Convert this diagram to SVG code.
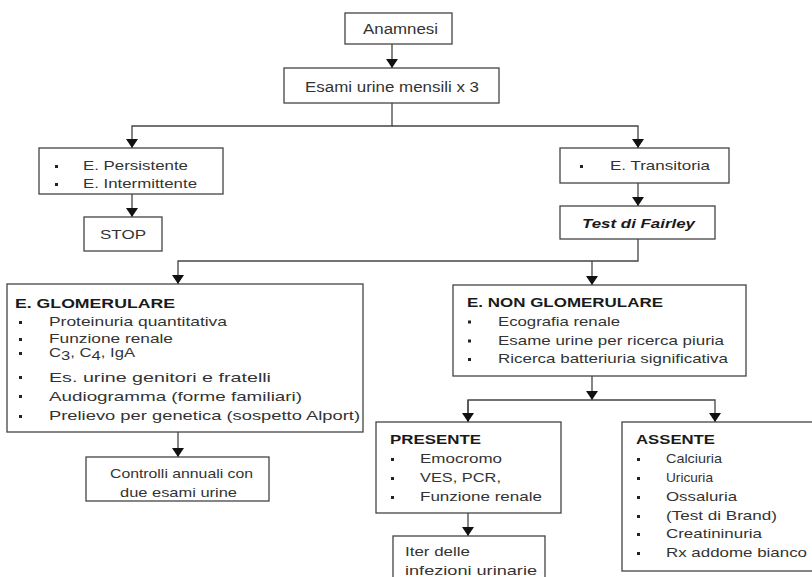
<svg xmlns="http://www.w3.org/2000/svg" width="812" height="577" viewBox="0 0 812 577">
<defs>
<style>
.box{fill:#fff;stroke:#444;stroke-width:1.3}
.t{font-family:"Liberation Sans",Arial,sans-serif;font-size:13.5px;fill:#333}
.big{font-size:14px}
.b{font-weight:bold;fill:#1a1a1a}
.bi{font-weight:bold;font-style:italic;fill:#1a1a1a}
.bul{fill:#222}
.c{fill:none;stroke:#444;stroke-width:1.3}
</style>
<marker id="ah" markerUnits="userSpaceOnUse" markerWidth="10" markerHeight="13" refX="9" refY="6" orient="auto" viewBox="0 0 10 13">
<path d="M0,0 L9,6 L0,12 z" fill="#111"/>
</marker>
</defs>
<rect width="812" height="577" fill="#fff"/>

<g id="connectors">
<path class="c" d="M392,44 V68" marker-end="url(#ah)"/>
<path class="c" d="M392,103 V126 H132 V148" marker-end="url(#ah)"/>
<path class="c" d="M392,126 H638 V148" marker-end="url(#ah)"/>
<path class="c" d="M132,194 V217" marker-end="url(#ah)"/>
<path class="c" d="M638,183 V206" marker-end="url(#ah)"/>
<path class="c" d="M638,239 V261 H178 V284" marker-end="url(#ah)"/>
<path class="c" d="M592,261 V285" marker-end="url(#ah)"/>
<path class="c" d="M178,432 V457" marker-end="url(#ah)"/>
<path class="c" d="M592,376 V400" marker-end="url(#ah)"/>
<path class="c" d="M468,422 V400 H715 V422" marker-end="url(#ah)"/>
<path class="c" d="M468,400 V422" marker-end="url(#ah)"/>
<path class="c" d="M468,513 V536" marker-end="url(#ah)"/>
</g>

<g id="anamnesi">
<rect class="box" x="345" y="13" width="107" height="31"/>
<text class="t big" x="363" y="33.5" textLength="75" lengthAdjust="spacingAndGlyphs">Anamnesi</text>
</g>

<g id="esami">
<rect class="box" x="284" y="68" width="215" height="35"/>
<text class="t big" x="305" y="91.5" textLength="174" lengthAdjust="spacingAndGlyphs">Esami urine mensili x 3</text>
</g>

<g id="persistente">
<rect class="box" x="39" y="148" width="184" height="46"/>
<rect class="bul" x="55" y="165" width="3" height="3"/>
<text class="t" x="83" y="170" textLength="105" lengthAdjust="spacingAndGlyphs">E. Persistente</text>
<rect class="bul" x="55" y="183" width="3" height="3"/>
<text class="t" x="83" y="188" textLength="114" lengthAdjust="spacingAndGlyphs">E. Intermittente</text>
</g>

<g id="stop">
<rect class="box" x="84" y="217" width="78" height="34"/>
<text class="t" x="100" y="239" textLength="46" lengthAdjust="spacingAndGlyphs">STOP</text>
</g>

<g id="transitoria">
<rect class="box" x="560" y="148" width="169" height="35"/>
<rect class="bul" x="580" y="165" width="3" height="3"/>
<text class="t" x="610" y="170" textLength="100" lengthAdjust="spacingAndGlyphs">E. Transitoria</text>
</g>

<g id="fairley">
<rect class="box" x="560" y="206" width="155" height="33"/>
<text class="t bi" x="582" y="227.5" textLength="113" lengthAdjust="spacingAndGlyphs">Test di Fairley</text>
</g>

<g id="glomerulare">
<rect class="box" x="7" y="284" width="356" height="148"/>
<text class="t b" x="15" y="307.5" textLength="160" lengthAdjust="spacingAndGlyphs">E. GLOMERULARE</text>
<rect class="bul" x="19" y="321" width="3" height="3"/>
<text class="t" x="49" y="326" textLength="178" lengthAdjust="spacingAndGlyphs">Proteinuria quantitativa</text>
<rect class="bul" x="19" y="338" width="3" height="3"/>
<text class="t" x="49" y="343" textLength="124" lengthAdjust="spacingAndGlyphs">Funzione renale</text>
<rect class="bul" x="19" y="352" width="3" height="3"/>
<text class="t" x="49" y="357" textLength="86" lengthAdjust="spacingAndGlyphs">C<tspan dy="3">3</tspan><tspan dy="-3">, C</tspan><tspan dy="3">4</tspan><tspan dy="-3">, IgA</tspan></text>
<rect class="bul" x="19" y="376" width="3" height="3"/>
<text class="t" x="49" y="381.5" textLength="222" lengthAdjust="spacingAndGlyphs">Es. urine genitori e fratelli</text>
<rect class="bul" x="19" y="395" width="3" height="3"/>
<text class="t" x="49" y="400.5" textLength="253" lengthAdjust="spacingAndGlyphs">Audiogramma (forme familiari)</text>
<rect class="bul" x="19" y="415" width="3" height="3"/>
<text class="t" x="49" y="420" textLength="311" lengthAdjust="spacingAndGlyphs">Prelievo per genetica (sospetto Alport)</text>
</g>

<g id="controlli">
<rect class="box" x="86" y="457" width="183" height="44"/>
<text class="t" x="110" y="478" textLength="143" lengthAdjust="spacingAndGlyphs">Controlli annuali con</text>
<text class="t" x="120" y="497" textLength="117" lengthAdjust="spacingAndGlyphs">due esami urine</text>
</g>

<g id="non-glomerulare">
<rect class="box" x="453" y="285" width="293" height="91"/>
<text class="t b" x="467" y="306.5" textLength="196" lengthAdjust="spacingAndGlyphs">E. NON GLOMERULARE</text>
<rect class="bul" x="468" y="320.5" width="3" height="3"/>
<text class="t" x="498" y="325.5" textLength="122" lengthAdjust="spacingAndGlyphs">Ecografia renale</text>
<rect class="bul" x="468" y="339.5" width="3" height="3"/>
<text class="t" x="498" y="344.5" textLength="226" lengthAdjust="spacingAndGlyphs">Esame urine per ricerca piuria</text>
<rect class="bul" x="468" y="358" width="3" height="3"/>
<text class="t" x="498" y="363" textLength="230" lengthAdjust="spacingAndGlyphs">Ricerca batteriuria significativa</text>
</g>

<g id="presente">
<rect class="box" x="376" y="422" width="185" height="91"/>
<text class="t b" x="390" y="444" textLength="91" lengthAdjust="spacingAndGlyphs">PRESENTE</text>
<rect class="bul" x="391" y="458" width="3" height="3"/>
<text class="t" x="420" y="463" textLength="82" lengthAdjust="spacingAndGlyphs">Emocromo</text>
<rect class="bul" x="391" y="477" width="3" height="3"/>
<text class="t" x="420" y="482" textLength="81" lengthAdjust="spacingAndGlyphs">VES, PCR,</text>
<rect class="bul" x="391" y="496" width="3" height="3"/>
<text class="t" x="420" y="501" textLength="122" lengthAdjust="spacingAndGlyphs">Funzione renale</text>
</g>

<g id="iter">
<rect class="box" x="393" y="536" width="152" height="50"/>
<text class="t" x="405" y="556" textLength="65" lengthAdjust="spacingAndGlyphs">Iter delle</text>
<text class="t" x="405" y="575" textLength="132" lengthAdjust="spacingAndGlyphs">infezioni urinarie</text>
</g>

<g id="assente">
<rect class="box" x="622" y="422" width="200" height="149"/>
<text class="t b" x="636" y="444" textLength="79" lengthAdjust="spacingAndGlyphs">ASSENTE</text>
<rect class="bul" x="637" y="458" width="3" height="3"/>
<text class="t" x="666" y="463" textLength="56" lengthAdjust="spacingAndGlyphs">Calciuria</text>
<rect class="bul" x="637" y="477" width="3" height="3"/>
<text class="t" x="666" y="482" textLength="47" lengthAdjust="spacingAndGlyphs">Uricuria</text>
<rect class="bul" x="637" y="496" width="3" height="3"/>
<text class="t" x="666" y="501" textLength="71" lengthAdjust="spacingAndGlyphs">Ossaluria</text>
<rect class="bul" x="637" y="515" width="3" height="3"/>
<text class="t" x="666" y="520" textLength="111" lengthAdjust="spacingAndGlyphs">(Test di Brand)</text>
<rect class="bul" x="637" y="533" width="3" height="3"/>
<text class="t" x="666" y="538" textLength="96" lengthAdjust="spacingAndGlyphs">Creatininuria</text>
<rect class="bul" x="637" y="552" width="3" height="3"/>
<text class="t" x="666" y="557" textLength="141" lengthAdjust="spacingAndGlyphs">Rx addome bianco</text>
</g>
</svg>
